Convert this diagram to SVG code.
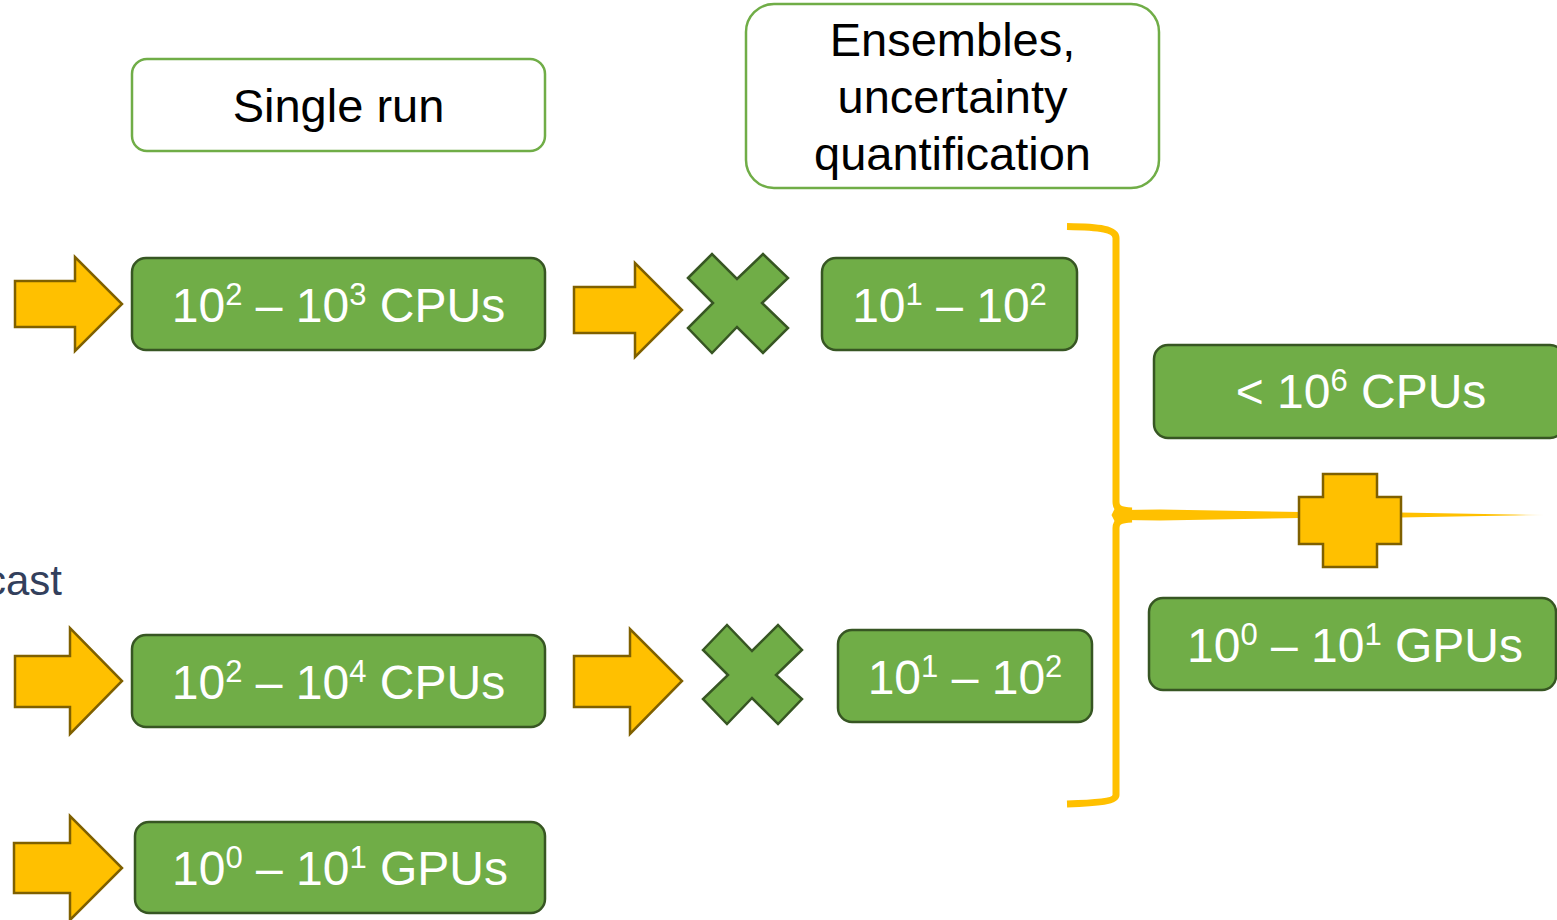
<svg xmlns="http://www.w3.org/2000/svg" width="1557" height="920" viewBox="0 0 1557 920">
<style>
.hdr{fill:#fff;stroke:#70AD47;stroke-width:2.5}
.hdrt{font-family:"Liberation Sans",Arial,sans-serif;font-size:47px;fill:#000;text-anchor:middle}
.box{fill:#70AD47;stroke:#375623;stroke-width:2.5}
.boxt{font-family:"Liberation Sans",Arial,sans-serif;font-size:48px;fill:#fff;text-anchor:middle}
.sup{font-size:31px}
.arr{fill:#FFC000;stroke:#7F6000;stroke-width:2.5;stroke-linejoin:miter}
.xs{fill:#70AD47;stroke:#375623;stroke-width:2.5}
.brace{fill:none;stroke:#FFC000;stroke-width:7}
.bfill{fill:#FFC000}
.lbl{font-family:"Liberation Sans",Arial,sans-serif;font-size:42px;fill:#333F5C}
</style>
<defs>
<linearGradient id="tail" x1="0" y1="0" x2="1" y2="0">
<stop offset="0" stop-color="#FFC000"/>
<stop offset="0.8" stop-color="#FFC000"/>
<stop offset="1" stop-color="#FFC000" stop-opacity="0.2"/>
</linearGradient>
</defs>
<rect width="1557" height="920" fill="#fff"/>

<text class="lbl" x="62" y="595" text-anchor="end">cast</text>

<g id="connectors">
<path class="arr" d="M15,281 L75,281 L75,257 L122,304 L75,351 L75,327 L15,327 Z"/>
<path class="arr" d="M574,287 L635,287 L635,263 L682,310 L635,357 L635,333 L574,333 Z"/>
<path class="arr" d="M15,656 L70,656 L70,628 L122,681 L70,734 L70,707 L15,707 Z"/>
<path class="arr" d="M574,656 L630,656 L630,629 L682,681 L630,734 L630,707 L574,707 Z"/>
<path class="arr" d="M14,843 L70,843 L70,816 L122,868 L70,920 L70,893 L14,893 Z"/>
<path class="brace" d="M1067,226.5 C1100,227 1116,229 1116,238 V502 C1116,508 1119,510.5 1132,511"/>
<path class="brace" d="M1132,519 C1119,519.5 1116,522 1116,528 V795 C1116,801 1100,803 1067,804"/>
<path class="bfill" d="M1111.5,515 L1116,506 L1122,510 L1160,509.5 L1300,512 L1300,518 L1160,520.5 L1122,520 L1116,524 Z"/>
<path d="M1400,512.5 L1545,515 L1400,517.5 Z" fill="url(#tail)"/>
</g>

<g id="hdr-single">
<rect class="hdr" x="132" y="59" width="413" height="92" rx="15"/>
<text class="hdrt" x="338.5" y="122">Single run</text>
</g>
<g id="hdr-ensembles">
<rect class="hdr" x="746" y="4" width="413" height="184" rx="28"/>
<text class="hdrt" x="952.5" y="56">Ensembles,</text>
<text class="hdrt" x="952.5" y="113">uncertainty</text>
<text class="hdrt" x="952.5" y="170">quantification</text>
</g>

<g id="cpu1">
<rect class="box" x="132" y="258" width="413" height="92" rx="14"/>
<text class="boxt" x="338.5" y="322">10<tspan class="sup" dy="-17">2</tspan><tspan dy="17"> – 10</tspan><tspan class="sup" dy="-17">3</tspan><tspan dy="17"> CPUs</tspan></text>
</g>
<g id="cross1">
<path class="xs" d="M688,278 L712,254 L737,279 L763,254 L788,278 L762,303 L788,328 L763,353 L737,327 L712,353 L688,328 L713,303 Z"/>
</g>
<g id="ens1">
<rect class="box" x="822" y="258" width="255" height="92" rx="14"/>
<text class="boxt" x="949.5" y="322">10<tspan class="sup" dy="-17">1</tspan><tspan dy="17"> – 10</tspan><tspan class="sup" dy="-17">2</tspan></text>
</g>

<g id="cpu2">
<rect class="box" x="132" y="635" width="413" height="92" rx="14"/>
<text class="boxt" x="338.5" y="699">10<tspan class="sup" dy="-17">2</tspan><tspan dy="17"> – 10</tspan><tspan class="sup" dy="-17">4</tspan><tspan dy="17"> CPUs</tspan></text>
</g>
<g id="cross2">
<path class="xs" d="M703,650 L727,625 L752,651 L778,625 L802,650 L776,675 L802,699 L778,724 L752,698 L727,724 L703,699 L728,675 Z"/>
</g>
<g id="ens2">
<rect class="box" x="838" y="630" width="254" height="92" rx="14"/>
<text class="boxt" x="965" y="694">10<tspan class="sup" dy="-17">1</tspan><tspan dy="17"> – 10</tspan><tspan class="sup" dy="-17">2</tspan></text>
</g>

<g id="gpu-left">
<rect class="box" x="135" y="822" width="410" height="91" rx="14"/>
<text class="boxt" x="340" y="885">10<tspan class="sup" dy="-17">0</tspan><tspan dy="17"> – 10</tspan><tspan class="sup" dy="-17">1</tspan><tspan dy="17"> GPUs</tspan></text>
</g>

<g id="cpu-total">
<rect class="box" x="1154" y="345" width="410" height="93" rx="14"/>
<text class="boxt" x="1361" y="408">&lt; 10<tspan class="sup" dy="-17">6</tspan><tspan dy="17"> CPUs</tspan></text>
</g>
<g id="plus">
<path class="arr" d="M1323,474 H1377 V497 H1401 V544 H1377 V567 H1323 V544 H1299 V497 H1323 Z"/>
</g>
<g id="gpu-total">
<rect class="box" x="1149" y="598" width="407" height="92" rx="14"/>
<text class="boxt" x="1355" y="662">10<tspan class="sup" dy="-17">0</tspan><tspan dy="17"> – 10</tspan><tspan class="sup" dy="-17">1</tspan><tspan dy="17"> GPUs</tspan></text>
</g>
</svg>
